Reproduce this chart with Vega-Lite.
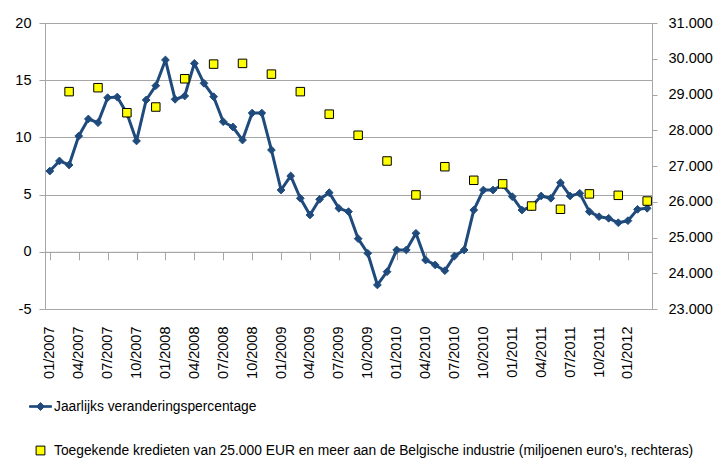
{
  "$schema": "https://vega.github.io/schema/vega-lite/v6.json",
  "width": 607,
  "height": 286,
  "autosize": {"type": "none"},
  "padding": {"left": 45, "top": 23, "right": 66, "bottom": 150},
  "background": "white",
  "config": {
    "locale": {"number": {"decimal": ",", "thousands": ".", "grouping": [3], "currency": ["€", ""], "minus": "-"}},
    "view": {"stroke": null},
    "font": "Liberation Sans",
    "axis": {"labelFont": "Liberation Sans", "labelFontSize": 14.5, "labelColor": "#000000", "domainColor": "#A6A6A6", "tickColor": "#A6A6A6", "gridColor": "#A6A6A6", "gridOpacity": 1, "title": null},
    "legend": {"labelFont": "Liberation Sans", "labelFontSize": 13.8, "labelColor": "#000000", "labelLimit": 0, "padding": 0}
  },
  "datasets": {
    "pct": [
      {"d": "2007-01", "s": "Jaarlijks veranderingspercentage", "v": 7.06},
      {"d": "2007-02", "s": "Jaarlijks veranderingspercentage", "v": 7.94},
      {"d": "2007-03", "s": "Jaarlijks veranderingspercentage", "v": 7.59},
      {"d": "2007-04", "s": "Jaarlijks veranderingspercentage", "v": 10.12},
      {"d": "2007-05", "s": "Jaarlijks veranderingspercentage", "v": 11.61},
      {"d": "2007-06", "s": "Jaarlijks veranderingspercentage", "v": 11.29},
      {"d": "2007-07", "s": "Jaarlijks veranderingspercentage", "v": 13.47},
      {"d": "2007-08", "s": "Jaarlijks veranderingspercentage", "v": 13.53},
      {"d": "2007-09", "s": "Jaarlijks veranderingspercentage", "v": 12.1},
      {"d": "2007-10", "s": "Jaarlijks veranderingspercentage", "v": 9.69},
      {"d": "2007-11", "s": "Jaarlijks veranderingspercentage", "v": 13.27},
      {"d": "2007-12", "s": "Jaarlijks veranderingspercentage", "v": 14.52},
      {"d": "2008-01", "s": "Jaarlijks veranderingspercentage", "v": 16.77},
      {"d": "2008-02", "s": "Jaarlijks veranderingspercentage", "v": 13.33},
      {"d": "2008-03", "s": "Jaarlijks veranderingspercentage", "v": 13.62},
      {"d": "2008-04", "s": "Jaarlijks veranderingspercentage", "v": 16.47},
      {"d": "2008-05", "s": "Jaarlijks veranderingspercentage", "v": 14.73},
      {"d": "2008-06", "s": "Jaarlijks veranderingspercentage", "v": 13.56},
      {"d": "2008-07", "s": "Jaarlijks veranderingspercentage", "v": 11.37},
      {"d": "2008-08", "s": "Jaarlijks veranderingspercentage", "v": 10.91},
      {"d": "2008-09", "s": "Jaarlijks veranderingspercentage", "v": 9.77},
      {"d": "2008-10", "s": "Jaarlijks veranderingspercentage", "v": 12.13},
      {"d": "2008-11", "s": "Jaarlijks veranderingspercentage", "v": 12.13},
      {"d": "2008-12", "s": "Jaarlijks veranderingspercentage", "v": 8.9},
      {"d": "2009-01", "s": "Jaarlijks veranderingspercentage", "v": 5.4},
      {"d": "2009-02", "s": "Jaarlijks veranderingspercentage", "v": 6.63},
      {"d": "2009-03", "s": "Jaarlijks veranderingspercentage", "v": 4.68},
      {"d": "2009-04", "s": "Jaarlijks veranderingspercentage", "v": 3.22},
      {"d": "2009-05", "s": "Jaarlijks veranderingspercentage", "v": 4.59},
      {"d": "2009-06", "s": "Jaarlijks veranderingspercentage", "v": 5.17},
      {"d": "2009-07", "s": "Jaarlijks veranderingspercentage", "v": 3.8},
      {"d": "2009-08", "s": "Jaarlijks veranderingspercentage", "v": 3.51},
      {"d": "2009-09", "s": "Jaarlijks veranderingspercentage", "v": 1.15},
      {"d": "2009-10", "s": "Jaarlijks veranderingspercentage", "v": -0.13},
      {"d": "2009-11", "s": "Jaarlijks veranderingspercentage", "v": -2.9},
      {"d": "2009-12", "s": "Jaarlijks veranderingspercentage", "v": -1.74},
      {"d": "2010-01", "s": "Jaarlijks veranderingspercentage", "v": 0.16},
      {"d": "2010-02", "s": "Jaarlijks veranderingspercentage", "v": 0.16},
      {"d": "2010-03", "s": "Jaarlijks veranderingspercentage", "v": 1.62},
      {"d": "2010-04", "s": "Jaarlijks veranderingspercentage", "v": -0.72},
      {"d": "2010-05", "s": "Jaarlijks veranderingspercentage", "v": -1.15},
      {"d": "2010-06", "s": "Jaarlijks veranderingspercentage", "v": -1.65},
      {"d": "2010-07", "s": "Jaarlijks veranderingspercentage", "v": -0.37},
      {"d": "2010-08", "s": "Jaarlijks veranderingspercentage", "v": 0.16},
      {"d": "2010-09", "s": "Jaarlijks veranderingspercentage", "v": 3.65},
      {"d": "2010-10", "s": "Jaarlijks veranderingspercentage", "v": 5.4},
      {"d": "2010-11", "s": "Jaarlijks veranderingspercentage", "v": 5.4},
      {"d": "2010-12", "s": "Jaarlijks veranderingspercentage", "v": 5.84},
      {"d": "2011-01", "s": "Jaarlijks veranderingspercentage", "v": 4.82},
      {"d": "2011-02", "s": "Jaarlijks veranderingspercentage", "v": 3.65},
      {"d": "2011-03", "s": "Jaarlijks veranderingspercentage", "v": 3.95},
      {"d": "2011-04", "s": "Jaarlijks veranderingspercentage", "v": 4.88},
      {"d": "2011-05", "s": "Jaarlijks veranderingspercentage", "v": 4.68},
      {"d": "2011-06", "s": "Jaarlijks veranderingspercentage", "v": 6.04},
      {"d": "2011-07", "s": "Jaarlijks veranderingspercentage", "v": 4.88},
      {"d": "2011-08", "s": "Jaarlijks veranderingspercentage", "v": 5.11},
      {"d": "2011-09", "s": "Jaarlijks veranderingspercentage", "v": 3.51},
      {"d": "2011-10", "s": "Jaarlijks veranderingspercentage", "v": 3.07},
      {"d": "2011-11", "s": "Jaarlijks veranderingspercentage", "v": 2.93},
      {"d": "2011-12", "s": "Jaarlijks veranderingspercentage", "v": 2.54},
      {"d": "2012-01", "s": "Jaarlijks veranderingspercentage", "v": 2.72},
      {"d": "2012-02", "s": "Jaarlijks veranderingspercentage", "v": 3.71},
      {"d": "2012-03", "s": "Jaarlijks veranderingspercentage", "v": 3.8}
    ],
    "kred": [
      {"d": "2007-03", "s": "Toegekende kredieten van 25.000 EUR en meer aan de Belgische industrie (miljoenen euro's, rechteras)", "v": 29080},
      {"d": "2007-06", "s": "Toegekende kredieten van 25.000 EUR en meer aan de Belgische industrie (miljoenen euro's, rechteras)", "v": 29190},
      {"d": "2007-09", "s": "Toegekende kredieten van 25.000 EUR en meer aan de Belgische industrie (miljoenen euro's, rechteras)", "v": 28490},
      {"d": "2007-12", "s": "Toegekende kredieten van 25.000 EUR en meer aan de Belgische industrie (miljoenen euro's, rechteras)", "v": 28650},
      {"d": "2008-03", "s": "Toegekende kredieten van 25.000 EUR en meer aan de Belgische industrie (miljoenen euro's, rechteras)", "v": 29440},
      {"d": "2008-06", "s": "Toegekende kredieten van 25.000 EUR en meer aan de Belgische industrie (miljoenen euro's, rechteras)", "v": 29850},
      {"d": "2008-09", "s": "Toegekende kredieten van 25.000 EUR en meer aan de Belgische industrie (miljoenen euro's, rechteras)", "v": 29870},
      {"d": "2008-12", "s": "Toegekende kredieten van 25.000 EUR en meer aan de Belgische industrie (miljoenen euro's, rechteras)", "v": 29570},
      {"d": "2009-03", "s": "Toegekende kredieten van 25.000 EUR en meer aan de Belgische industrie (miljoenen euro's, rechteras)", "v": 29080},
      {"d": "2009-06", "s": "Toegekende kredieten van 25.000 EUR en meer aan de Belgische industrie (miljoenen euro's, rechteras)", "v": 28450},
      {"d": "2009-09", "s": "Toegekende kredieten van 25.000 EUR en meer aan de Belgische industrie (miljoenen euro's, rechteras)", "v": 27860},
      {"d": "2009-12", "s": "Toegekende kredieten van 25.000 EUR en meer aan de Belgische industrie (miljoenen euro's, rechteras)", "v": 27140},
      {"d": "2010-03", "s": "Toegekende kredieten van 25.000 EUR en meer aan de Belgische industrie (miljoenen euro's, rechteras)", "v": 26190},
      {"d": "2010-06", "s": "Toegekende kredieten van 25.000 EUR en meer aan de Belgische industrie (miljoenen euro's, rechteras)", "v": 26980},
      {"d": "2010-09", "s": "Toegekende kredieten van 25.000 EUR en meer aan de Belgische industrie (miljoenen euro's, rechteras)", "v": 26600},
      {"d": "2010-12", "s": "Toegekende kredieten van 25.000 EUR en meer aan de Belgische industrie (miljoenen euro's, rechteras)", "v": 26500},
      {"d": "2011-03", "s": "Toegekende kredieten van 25.000 EUR en meer aan de Belgische industrie (miljoenen euro's, rechteras)", "v": 25880},
      {"d": "2011-06", "s": "Toegekende kredieten van 25.000 EUR en meer aan de Belgische industrie (miljoenen euro's, rechteras)", "v": 25790},
      {"d": "2011-09", "s": "Toegekende kredieten van 25.000 EUR en meer aan de Belgische industrie (miljoenen euro's, rechteras)", "v": 26220},
      {"d": "2011-12", "s": "Toegekende kredieten van 25.000 EUR en meer aan de Belgische industrie (miljoenen euro's, rechteras)", "v": 26180},
      {"d": "2012-03", "s": "Toegekende kredieten van 25.000 EUR en meer aan de Belgische industrie (miljoenen euro's, rechteras)", "v": 26020}
    ]
  },
  "layer": [
    {
      "data": {"name": "pct"},
      "mark": {"type": "line", "strokeWidth": 3, "strokeJoin": "round", "color": "#1F4A7C"},
      "encoding": {
        "x": {
          "field": "d", "type": "ordinal",
          "scale": {"paddingInner": 0, "paddingOuter": 0},
          "axis": {
            "orient": "bottom",
            "values": ["2007-01","2007-04","2007-07","2007-10","2008-01","2008-04","2008-07","2008-10","2009-01","2009-04","2009-07","2009-10","2010-01","2010-04","2010-07","2010-10","2011-01","2011-04","2011-07","2011-10","2012-01"],
            "labelExpr": "slice(datum.value, 5) + '/' + slice(datum.value, 0, 4)",
            "labelAngle": -90, "labelAlign": "right", "labelBaseline": "middle",
            "ticks": false, "domain": false, "grid": false, "labelPadding": 17
          }
        },
        "y": {
          "field": "v", "type": "quantitative",
          "scale": {"domain": [-5, 20], "nice": false, "zero": false},
          "axis": {"orient": "left", "values": [-5, 0, 5, 10, 15, 20], "grid": true, "tickSize": 6, "labelPadding": 8, "domain": true}
        }
      }
    },
    {
      "data": {"name": "pct"},
      "mark": {"type": "point", "shape": "diamond", "filled": true, "opacity": 1, "size": 60, "strokeWidth": 1, "fill": "#1F4A7C", "stroke": "#1F4A7C"},
      "encoding": {
        "x": {
          "field": "d", "type": "ordinal",
          "axis": {
            "orient": "bottom", "offset": -57.2, "bandPosition": 0,
            "values": ["2007-01","2007-04","2007-07","2007-10","2008-01","2008-04","2008-07","2008-10","2009-01","2009-04","2009-07","2009-10","2010-01","2010-04","2010-07","2010-10","2011-01","2011-04","2011-07","2011-10","2012-01"],
            "labels": false, "ticks": true, "tickSize": 8, "domain": true, "grid": false
          }
        },
        "y": {"field": "v", "type": "quantitative", "scale": {"domain": [-5, 20], "nice": false, "zero": false}, "axis": null}
      }
    },
    {
      "data": {"name": "kred"},
      "mark": {"type": "point", "shape": "square", "filled": true, "opacity": 1, "size": 72, "strokeWidth": 1, "fill": "#FFFF00", "stroke": "#000000"},
      "encoding": {
        "x": {"field": "d", "type": "ordinal", "axis": null},
        "y": {
          "field": "v", "type": "quantitative",
          "scale": {"domain": [23000, 31000], "nice": false, "zero": false},
          "axis": {"orient": "right", "format": ",.0f", "values": [23000, 24000, 25000, 26000, 27000, 28000, 29000, 30000, 31000], "grid": false, "tickSize": 5, "labelPadding": 11, "domain": true}
        }
      }
    },
    {
      "data": {"name": "kred"},
      "transform": [{"filter": "false"}],
      "mark": {"type": "point", "filled": true, "opacity": 1, "strokeWidth": 1},
      "encoding": {
        "x": {"field": "d", "type": "ordinal", "axis": null},
        "y": {"field": "v", "type": "quantitative", "axis": null},
        "color": {
          "field": "s", "type": "nominal",
          "scale": {"domain": ["Jaarlijks veranderingspercentage", "Toegekende kredieten van 25.000 EUR en meer aan de Belgische industrie (miljoenen euro's, rechteras)"], "range": ["#1F4A7C", "#FFFF00"]},
          "legend": {"orient": "none", "legendX": -16, "legendY": 372, "direction": "vertical", "title": null, "rowPadding": 25, "symbolSize": 484, "symbolStrokeWidth": 1, "labelOffset": 2}
        },
        "shape": {
          "field": "s", "type": "nominal",
          "scale": {"domain": ["Jaarlijks veranderingspercentage", "Toegekende kredieten van 25.000 EUR en meer aan de Belgische industrie (miljoenen euro's, rechteras)"], "range": ["M-1,-0.07L1,-0.07L1,0.07L-1,0.07Z M0,-0.36L0.36,0L0,0.36L-0.36,0Z", "M-0.4,-0.4L0.4,-0.4L0.4,0.4L-0.4,0.4Z"]},
          "legend": {"orient": "none", "legendX": -16, "legendY": 372, "direction": "vertical", "title": null, "rowPadding": 25, "symbolSize": 484, "symbolStrokeWidth": 1, "labelOffset": 2}
        },
        "stroke": {
          "field": "s", "type": "nominal",
          "scale": {"domain": ["Jaarlijks veranderingspercentage", "Toegekende kredieten van 25.000 EUR en meer aan de Belgische industrie (miljoenen euro's, rechteras)"], "range": ["#1F4A7C", "#000000"]},
          "legend": {"orient": "none", "legendX": -16, "legendY": 372, "direction": "vertical", "title": null, "rowPadding": 25, "symbolSize": 484, "symbolStrokeWidth": 1, "labelOffset": 2}
        }
      }
    }
  ],
  "resolve": {"scale": {"y": "independent"}, "axis": {"x": "independent"}}
}
